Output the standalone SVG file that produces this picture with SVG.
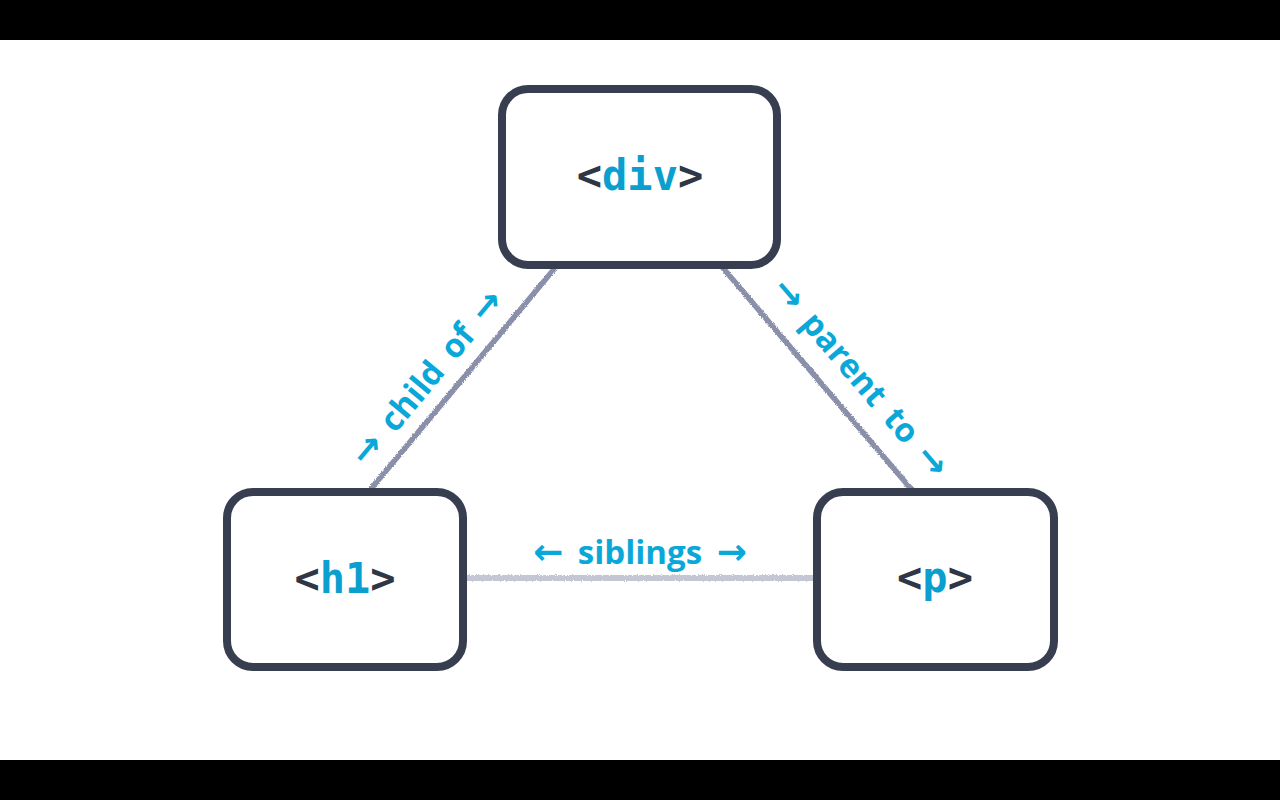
<svg xmlns="http://www.w3.org/2000/svg" width="1280" height="800" viewBox="0 0 1280 800">
  <style>
    .box { fill: #ffffff; stroke: #363e4f; stroke-width: 8; }
    .tag { font-family: "DejaVu Sans Mono", "Liberation Mono", monospace; font-weight: bold; font-size: 42px; fill: #2f3645; }
    .tag .name { fill: #0b9fcf; }
    .lbl { font-family: "Open Sans", "Noto Sans", sans-serif; font-weight: bold; font-size: 33px; fill: #0aa7d9; word-spacing: 6px; }
    .arr { font-family: "DejaVu Sans", sans-serif; font-weight: bold; font-size: 36px; }
    .edge { fill: none; stroke-linecap: round; filter: url(#pencil); }
  </style>
  <defs>
    <filter id="pencil" filterUnits="userSpaceOnUse" x="0" y="0" width="1280" height="800">
      <feTurbulence type="fractalNoise" baseFrequency="0.9" numOctaves="2" seed="3" result="n"/>
      <feDisplacementMap in="SourceGraphic" in2="n" scale="3" xChannelSelector="R" yChannelSelector="G"/>
    </filter>
  </defs>
  <rect x="0" y="0" width="1280" height="800" fill="#ffffff"/>
  <rect x="0" y="0" width="1280" height="40" fill="#000000"/>
  <rect x="0" y="760" width="1280" height="40" fill="#000000"/>

  <g id="connectors">
    <line class="edge" x1="555" y1="268" x2="370" y2="490" stroke="#8a90a9" stroke-width="5.5"/>
    <line class="edge" x1="723" y1="268" x2="912" y2="490" stroke="#8a90a9" stroke-width="5.5"/>
    <line class="edge" x1="467" y1="578" x2="813" y2="578" stroke="#c3c6d3" stroke-width="6"/>
    <text class="lbl" text-anchor="middle" transform="translate(436 385) rotate(-50.2)"><tspan class="arr">→</tspan> child of <tspan class="arr">→</tspan></text>
    <text class="lbl" text-anchor="middle" transform="translate(852 385) rotate(49.4)"><tspan class="arr">→</tspan> parent to <tspan class="arr">→</tspan></text>
    <text class="lbl" text-anchor="middle" x="640" y="564"><tspan class="arr">←</tspan> siblings <tspan class="arr">→</tspan></text>
  </g>

  <g id="node-div">
    <rect class="box" x="502" y="89" width="275" height="176" rx="26"/>
    <text class="tag" x="640" y="190" text-anchor="middle">&lt;<tspan class="name">div</tspan>&gt;</text>
  </g>
  <g id="node-h1">
    <rect class="box" x="227" y="492" width="236" height="175" rx="26"/>
    <text class="tag" x="345" y="593" text-anchor="middle">&lt;<tspan class="name">h1</tspan>&gt;</text>
  </g>
  <g id="node-p">
    <rect class="box" x="817" y="492" width="237" height="175" rx="26"/>
    <text class="tag" x="935" y="592" text-anchor="middle">&lt;<tspan class="name">p</tspan>&gt;</text>
  </g>
</svg>
